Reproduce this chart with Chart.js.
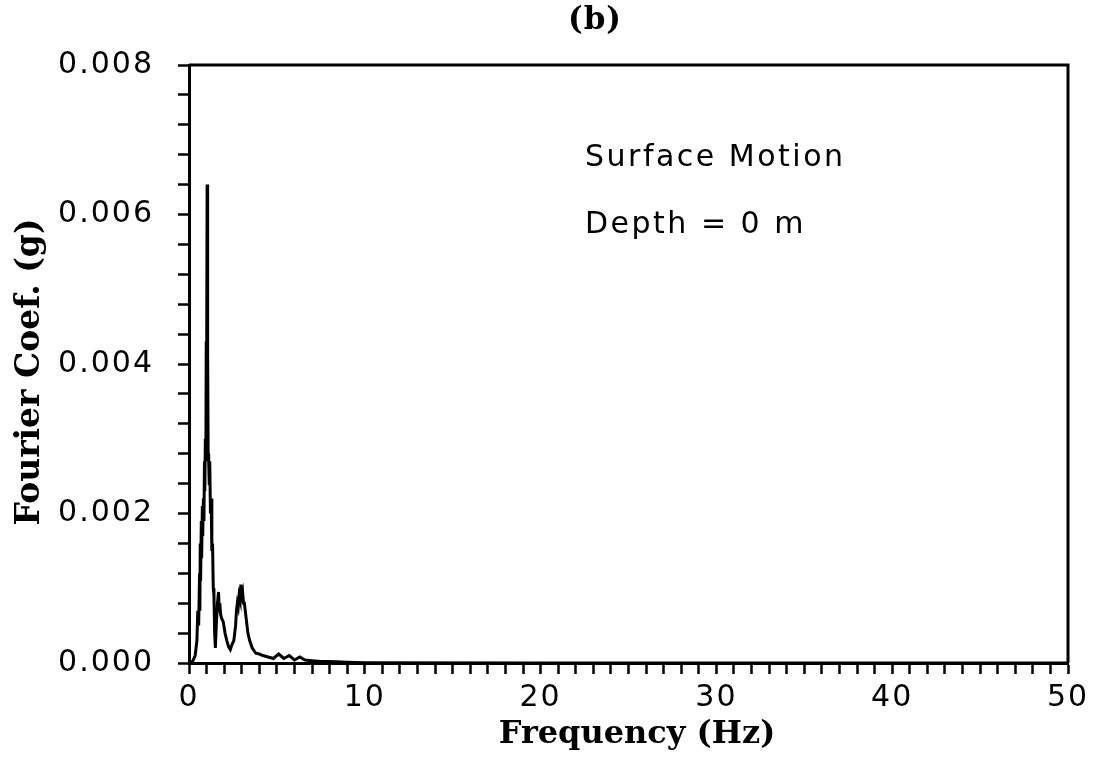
<!DOCTYPE html>
<html>
<head>
<meta charset="utf-8">
<script src="https://cdn.jsdelivr.net/npm/chart.js@4.4.1/dist/chart.umd.min.js"></script>
<style>
  html, body { margin: 0; padding: 0; background: #fff; }
  #wrap { width: 1095px; height: 765px; }
</style>
</head>
<body>
<div id="wrap"><canvas id="grafico"></canvas></div>
<script>
// frecuencias (Hz) y coeficientes de Fourier (g)
const frecuencias = [0, 0.2, 0.35, 0.45, 0.5, 0.55, 0.6, 0.62, 0.64, 0.66, 0.7, 0.72, 0.76, 0.78, 0.82, 0.85, 0.88, 0.9, 0.93, 0.96, 0.98, 1.0, 1.03, 1.05, 1.07, 1.09, 1.12, 1.15, 1.18, 1.22, 1.26, 1.3, 1.34, 1.38, 1.42, 1.46, 1.5, 1.55, 1.62, 1.68, 1.72, 1.75, 1.8, 1.85, 1.95, 2.05, 2.15, 2.25, 2.35, 2.45, 2.55, 2.65, 2.7, 2.75, 2.8, 2.85, 2.9, 2.95, 3.0, 3.05, 3.1, 3.15, 3.25, 3.35, 3.45, 3.6, 3.8, 4.0, 4.2, 4.5, 4.8, 5.1, 5.4, 5.7, 6.0, 6.3, 6.6, 7.0, 7.5, 8.0, 9.0, 10, 20, 50];
const coeficientes = [0, 0.00002, 0.0001, 0.0003, 0.0007, 0.0005, 0.0012, 0.0007, 0.0016, 0.0011, 0.0019, 0.0014, 0.0021, 0.0017, 0.0022, 0.0019, 0.0027, 0.0023, 0.003, 0.0027, 0.0043, 0.0036, 0.0064, 0.0035, 0.0042, 0.0028, 0.0027, 0.0024, 0.0027, 0.002, 0.0022, 0.0015, 0.0016, 0.001, 0.0009, 0.0004, 0.0002, 0.0005, 0.0008, 0.00095, 0.0007, 0.0008, 0.00065, 0.0006, 0.00055, 0.0004, 0.0003, 0.00022, 0.00018, 0.00025, 0.0003, 0.0005, 0.0007, 0.0008, 0.00075, 0.0009, 0.00085, 0.00105, 0.0009, 0.00095, 0.0008, 0.0008, 0.0006, 0.0004, 0.0003, 0.0002, 0.00013, 0.00012, 0.0001, 0.00008, 0.00006, 0.00012, 0.00006, 0.0001, 0.00004, 0.00008, 0.00004, 0.00003, 0.00002, 0.00002, 0.00001, 0.000005, 0, 0];

const ticksX = [0, 10, 20, 30, 40, 50];

const titulo = '(b)';
const tituloX = 'Frequency (Hz)';
const tituloY = 'Fourier Coef. (g)';
const anotaciones = ['Surface Motion', 'Depth = 0 m'];

const fuenteNum = '30px "DejaVu Sans"';

// textos extra y marco del grafico
const textosExtra = {
    id: 'textosExtra',
    beforeDraw(chart) {
        chart.ctx.letterSpacing = '2px';
    },
    afterDraw(chart) {
        const ctx = chart.ctx;
        const a = chart.chartArea;
        ctx.save();
        ctx.strokeStyle = '#000';
        ctx.lineWidth = 3;
        ctx.beginPath();
        ctx.moveTo(a.left, a.top);
        ctx.lineTo(a.right, a.top);
        ctx.lineTo(a.right, a.bottom);
        ctx.stroke();

        ctx.fillStyle = '#000';
        ctx.letterSpacing = '1px';
        ctx.font = 'bold 31px "DejaVu Serif", serif';
        ctx.textAlign = 'center';
        ctx.textBaseline = 'middle';
        ctx.fillText(titulo, 595, 21);

        ctx.letterSpacing = '0px';
        ctx.font = 'bold 32px "DejaVu Serif", serif';
        ctx.fillText(tituloX, 637, 735);

        ctx.save();
        ctx.translate(30, 372);
        ctx.rotate(-Math.PI / 2);
        ctx.font = 'bold 33px "DejaVu Serif", serif';
        ctx.fillText(tituloY, 0, 0);
        ctx.restore();

        ctx.letterSpacing = '2.5px';
        ctx.font = fuenteNum;
        ctx.textAlign = 'left';
        ctx.fillText(anotaciones[0], 585, 158);
        ctx.fillText(anotaciones[1], 585, 225);
        ctx.restore();
    }
};

const datos = frecuencias.map((f, i) => ({ x: f, y: coeficientes[i] }));

new Chart(document.getElementById('grafico'), {
    type: 'line',
    data: {
        datasets: [{
            data: datos,
            borderColor: '#000',
            borderWidth: 3,
            pointRadius: 0,
            tension: 0,
            fill: false
        }]
    },
    options: {
        responsive: true,
        maintainAspectRatio: false,
        animation: false,
        layout: { padding: { top: 65, right: 27, left: 0, bottom: 0 } },
        plugins: {
            legend: { display: false },
            tooltip: { enabled: false }
        },
        scales: {
            x: {
                type: 'linear',
                min: 0,
                max: 50,
                afterFit: scale => { scale.height = 102; },
                border: { display: true, color: '#000', width: 3 },
                grid: { drawOnChartArea: false, drawTicks: true, tickLength: 11, tickWidth: 2.5, tickColor: '#000' },
                ticks: {
                    stepSize: 1,
                    autoSkip: false,
                    maxRotation: 0,
                    padding: 6,
                    color: '#000',
                    font: { family: 'DejaVu Sans', size: 30 },
                    callback: v => ticksX.includes(v) ? String(v) : ''
                }
            },
            y: {
                min: 0,
                max: 0.008,
                afterFit: scale => { scale.width = 189; },
                border: { display: true, color: '#000', width: 3 },
                grid: { drawOnChartArea: false, drawTicks: true, tickLength: 11, tickWidth: 2.5, tickColor: '#000' },
                ticks: {
                    stepSize: 0.0004,
                    autoSkip: false,
                    padding: 24,
                    color: '#000',
                    font: { family: 'DejaVu Sans', size: 30 },
                    callback: v => {
                        const k = Math.round(v / 0.0004);
                        return k % 5 === 0 ? (k * 0.0004).toFixed(3) : '';
                    }
                }
            }
        }
    },
    plugins: [textosExtra]
});
</script>
</body>
</html>
